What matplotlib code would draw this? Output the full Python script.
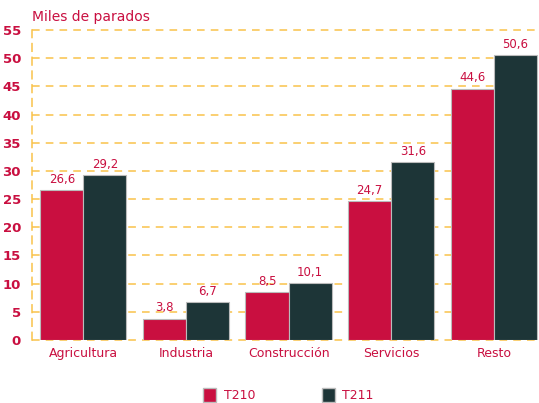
import numpy as np
from matplotlib import pyplot as plt
from matplotlib.patches import Patch

categories = ['Agricultura', 'Industria', 'Construcción', 'Servicios', 'Resto']
t210 = [26.6, 3.8, 8.5, 24.7, 44.6]
t211 = [29.2, 6.7, 10.1, 31.6, 50.6]
series_names = ['T210', 'T211']
yticks = [0, 5, 10, 15, 20, 25, 30, 35, 40, 45, 50, 55]

red = '#C90F40'
dark = '#1D3537'
grid = '#F9C24A'

plt.rcParams['font.family'] = ['DejaVu Sans']

fig = plt.figure(figsize=(5.39, 4.03), dpi=100)
ax = fig.add_axes([32/539, 1 - 340/403, 1 - 32/539, 310/403])

x = np.arange(len(categories))
w = 0.42
b1 = ax.bar(x - w/2, t210, w, color=red, edgecolor='#BBBBBB', linewidth=0.8, zorder=3)
b2 = ax.bar(x + w/2, t211, w, color=dark, edgecolor='#BBBBBB', linewidth=0.8, zorder=3)

def fmt(v):
    return f'{v:.1f}'.replace('.', ',')

for bars, vals in [(b1, t210), (b2, t211)]:
    for r, v in zip(bars, vals):
        ax.annotate(fmt(v), (r.get_x() + r.get_width()/2, v), xytext=(0, 3),
                    textcoords='offset points', ha='center', va='bottom',
                    color=red, fontsize=8.5)

ax.set_xlim(-0.5, 4.44)
ax.set_ylim(0, 55)
ax.set_yticks(yticks)
ax.set_yticklabels([str(t) for t in yticks], color=red, fontweight='bold', fontsize=9.5)
ax.set_xticks(x)
ax.set_xticklabels(categories, color=red, fontsize=9)
ax.tick_params(axis='both', length=0)
ax.tick_params(axis='y', pad=8)
ax.tick_params(axis='x', pad=5)

for t in yticks:
    ax.axhline(t, color=grid, linestyle=(0, (5, 4)), linewidth=1.1, zorder=1, clip_on=False)
for s in ['top', 'right', 'bottom']:
    ax.spines[s].set_visible(False)
ax.spines['left'].set_color(grid)
ax.spines['left'].set_linestyle((0, (5, 4)))
ax.spines['left'].set_linewidth(1.1)

fig.text(32/539, 1 - 17/403, 'Miles de parados', color=red, fontsize=10, va='center', ha='left')

handles = [Patch(facecolor=red, edgecolor='#BBBBBB'), Patch(facecolor=dark, edgecolor='#BBBBBB')]
fig.legend(handles, series_names, loc='center', bbox_to_anchor=(0.535, 1 - 395/403),
           ncol=2, frameon=False, handlelength=1.05, handleheight=1.35,
           columnspacing=5.3, fontsize=9, labelcolor=red, handletextpad=0.6)

fig.savefig('out.png', dpi=100)
